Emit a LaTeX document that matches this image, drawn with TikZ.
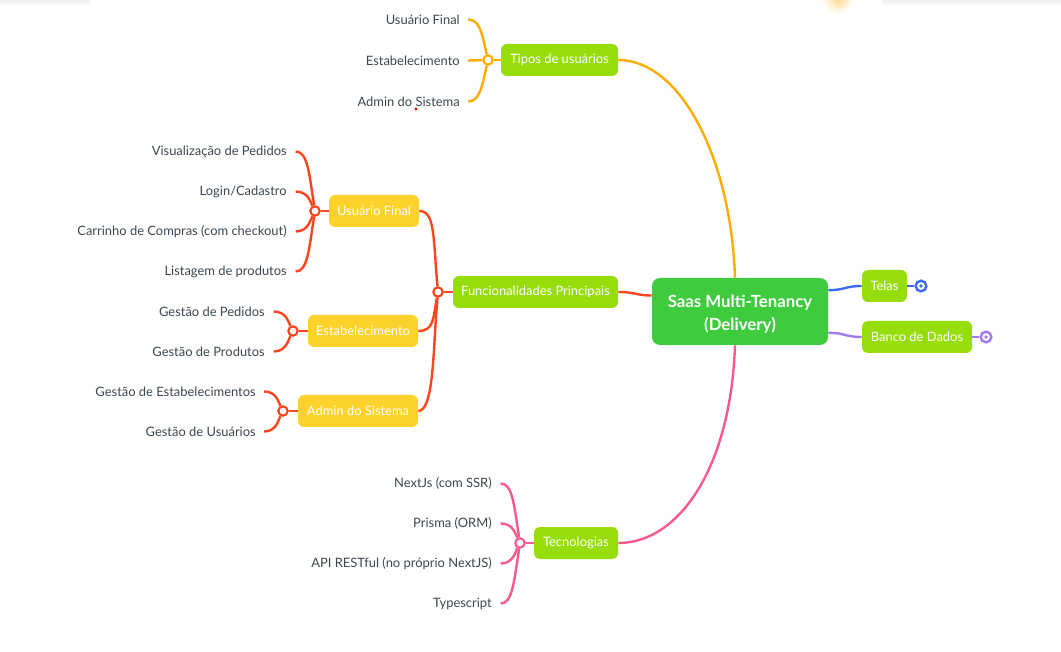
\documentclass[tikz,border=0pt]{standalone}
\usepackage{fontspec}
\setmainfont{Lato}
\usetikzlibrary{calc}
\definecolor{cO}{HTML}{FFAB00}
\definecolor{cR}{HTML}{FF4520}
\definecolor{cP}{HTML}{F75A8B}
\definecolor{cB}{HTML}{3D6BF5}
\definecolor{cV}{HTML}{A07CF0}
\definecolor{cLime}{HTML}{97DC0B}
\definecolor{cYel}{HTML}{FDD22B}
\definecolor{cGreen}{HTML}{3ECB3E}
\definecolor{cText}{HTML}{3C4650}
\begin{document}
\begin{tikzpicture}[x=0.75pt,y=0.75pt,
  box/.style={rounded corners=4.5pt, text=white, font=\fontsize{9.7}{11.5}\selectfont, minimum height=24pt, inner sep=0pt, align=center},
  lime/.style={fill=cLime},
  yel/.style={fill=cYel},
  leaf/.style={anchor=east, text=cText, font=\fontsize{9.7}{11.5}\selectfont, inner sep=0pt},
  hub/.style={circle, fill=white, line width=1.6pt, minimum size=7pt, inner sep=0pt},
  ring/.style={circle, fill=white, line width=1.8pt, minimum size=8pt, inner sep=0pt},
  conn/.style={line width=1.8pt},
]
\useasboundingbox (0,0) rectangle (1061,-652);
% faint top decorations
\begin{scope}
\clip (0,0) rectangle (1061,-652);
\shade[top color=black!6, bottom color=white] (0,0) rectangle (90,-6);
\shade[top color=black!6, bottom color=white] (882,0) rectangle (1061,-6);
\shade[inner color=cO!45, outer color=white] (838,2) circle (16);
\end{scope}
\fill[red] (416,-109) circle (1.6);

% central
\node[box, fill=cGreen, minimum width=132pt, minimum height=50.25pt, rounded corners=6pt, font=\bfseries\fontsize{12.6}{17.2}\selectfont] (c) at (740,-311.5) {};
\node[text=white, font=\bfseries\fontsize{12.6}{17.2}\selectfont, align=center, inner sep=0pt] (ct) at (740,-314) {Saas Multi-Tenancy\\(Delivery)};

% right side
\node[box, lime, minimum width=33.75pt] (telas) at (884.5,-286) {Telas};
\node[box, lime, minimum width=82.5pt] (banco) at (917,-337) {Banco de Dados};
\node[ring, draw=cB] (r1) at (921,-286) {};
\node[ring, draw=cV] (r2) at (986,-337) {};
\fill[cB] (r1) circle (1.8);
\fill[cV] (r2) circle (1.8);
\draw[conn, cB] (telas.east) -- (r1);
\draw[conn, cV] (banco.east) -- (r2);
\draw[conn, cB] ([yshift=16pt]c.east) .. controls +(17,0) and +(-17,0) .. (telas.west);
\draw[conn, cV] ([yshift=-16pt]c.east) .. controls +(17,0) and +(-17,0) .. (banco.west);

% Tipos de usuarios
\node[box, lime, minimum width=87.75pt] (tipos) at (559.5,-60) {Tipos de usuários};
\node[hub, draw=cO] (h1) at (488,-60) {};
\node[leaf] (t1) at (460,-19.5) {Usuário Final};
\node[leaf] (t2) at (460,-60.5) {Estabelecimento};
\node[leaf] (t3) at (460,-101.5) {Admin do Sistema};
\draw[conn, cO] (h1) -- (tipos);
\draw[conn, cO] ([xshift=6pt]t1.east) .. controls +(12,0) and +(-6,26) .. (h1);
\draw[conn, cO] ([xshift=6pt]t2.east) -- (h1);
\draw[conn, cO] ([xshift=6pt]t3.east) .. controls +(12,0) and +(-6,-26) .. (h1);
\draw[conn, cO] (tipos.east) .. controls +(62,0) and +(-4,120) .. ([xshift=-3.75pt]c.north);

% Funcionalidades Principais
\node[box, lime, minimum width=123.75pt] (func) at (535.5,-292) {Funcionalidades Principais};
\node[hub, draw=cR] (h2) at (438,-292) {};
\draw[conn, cR] (h2) -- (func);
\draw[conn, cR] (func.east) .. controls +(18,0) and +(-16,0) .. ([yshift=12pt]c.west);

\node[box, yel, minimum width=67.5pt] (uf) at (374,-211) {Usuário Final};
\node[box, yel, minimum width=82.5pt] (est) at (363,-331) {Estabelecimento};
\node[box, yel, minimum width=90pt] (adm) at (358,-411) {Admin do Sistema};
\draw[conn, cR] (uf.east) .. controls +(16,0) and +(-5,55) .. (h2);
\draw[conn, cR] (est.east) .. controls +(16,0) and +(-5,-26) .. (h2);
\draw[conn, cR] (adm.east) .. controls +(16,0) and +(-5,-55) .. (h2);

% Usuario Final children
\node[hub, draw=cR] (h3) at (315,-211) {};
\draw[conn, cR] (h3) -- (uf);
\node[leaf] (u1) at (287,-151.5) {Visualização de Pedidos};
\node[leaf] (u2) at (287,-191.5) {Login/Cadastro};
\node[leaf] (u3) at (287,-231.5) {Carrinho de Compras (com checkout)};
\node[leaf] (u4) at (287,-271.5) {Listagem de produtos};
\draw[conn, cR] ([xshift=6.5pt]u1.east) .. controls +(12,0) and +(-6,38) .. (h3);
\draw[conn, cR] ([xshift=6.5pt]u2.east) .. controls +(12,0) and +(-5,10) .. (h3);
\draw[conn, cR] ([xshift=6.5pt]u3.east) .. controls +(12,0) and +(-5,-10) .. (h3);
\draw[conn, cR] ([xshift=6.5pt]u4.east) .. controls +(12,0) and +(-6,-38) .. (h3);

% Estabelecimento children
\node[hub, draw=cR] (h4) at (293,-331) {};
\draw[conn, cR] (h4) -- (est);
\node[leaf] (e1) at (265,-311.5) {Gestão de Pedidos};
\node[leaf] (e2) at (265,-351.5) {Gestão de Produtos};
\draw[conn, cR] ([xshift=6.5pt]e1.east) .. controls +(12,0) and +(-5,10) .. (h4);
\draw[conn, cR] ([xshift=6.5pt]e2.east) .. controls +(12,0) and +(-5,-10) .. (h4);

% Admin children
\node[hub, draw=cR] (h5) at (283,-411) {};
\draw[conn, cR] (h5) -- (adm);
\node[leaf] (a1) at (256,-391.5) {Gestão de Estabelecimentos};
\node[leaf] (a2) at (256,-431.5) {Gestão de Usuários};
\draw[conn, cR] ([xshift=6pt]a1.east) .. controls +(12,0) and +(-5,10) .. (h5);
\draw[conn, cR] ([xshift=6pt]a2.east) .. controls +(12,0) and +(-5,-10) .. (h5);

% Tecnologias
\node[box, lime, minimum width=63pt] (tec) at (576,-543) {Tecnologias};
\node[hub, draw=cP] (h6) at (520,-543) {};
\draw[conn, cP] (h6) -- (tec);
\draw[conn, cP] (tec.east) .. controls +(62,0) and +(-4,-120) .. ([xshift=-3.75pt]c.south);
\node[leaf] (k1) at (492,-483.5) {NextJs (com SSR)};
\node[leaf] (k2) at (492,-523.5) {Prisma (ORM)};
\node[leaf] (k3) at (492,-563.5) {API RESTful (no próprio NextJS)};
\node[leaf] (k4) at (492,-603.5) {Typescript};
\draw[conn, cP] ([xshift=6.5pt]k1.east) .. controls +(12,0) and +(-6,38) .. (h6);
\draw[conn, cP] ([xshift=6.5pt]k2.east) .. controls +(12,0) and +(-5,10) .. (h6);
\draw[conn, cP] ([xshift=6.5pt]k3.east) .. controls +(12,0) and +(-5,-10) .. (h6);
\draw[conn, cP] ([xshift=6.5pt]k4.east) .. controls +(12,0) and +(-6,-38) .. (h6);
\end{tikzpicture}
\end{document}
